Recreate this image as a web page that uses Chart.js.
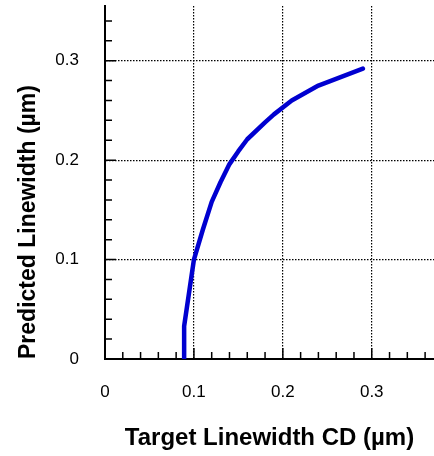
<!DOCTYPE html>
<html lang="en">
  <head>
    <meta charset="utf-8">
    <title>Predicted vs target linewidth</title>
    <script src="https://cdn.jsdelivr.net/npm/chart.js@4.4.1/dist/chart.umd.min.js"></script>
    <style>
      body { margin: 0; background: #fff; }
    </style>
  </head>
  <body>
    <canvas id="myChart" width="434" height="456"></canvas>
    <script>
      // values (um)
      const targetCD = [0.089, 0.089, 0.1, 0.11, 0.12, 0.13, 0.14, 0.15, 0.16, 0.18, 0.19, 0.21, 0.24, 0.29];
      const predicted = [0, 0.033, 0.1, 0.13, 0.158, 0.178, 0.196, 0.209, 0.221, 0.238, 0.246, 0.26, 0.275, 0.292];
      const xTicks = [0, 0.1, 0.2, 0.3];
      const yTicks = [0, 0.1, 0.2, 0.3];

      const points = [];
      for (let i = 0; i < targetCD.length; i++) {
          points.push({x: targetCD[i], y: predicted[i]});
      }

      const font = "'Liberation Sans', Arial, sans-serif";

      // small ticks pointing into the plot, every 0.02, longer on the labelled ones
      const innerTicks = {
          id: 'innerTicks',
          afterDraw(chart) {
              const ctx = chart.ctx;
              const xs = chart.scales.x, ys = chart.scales.y;
              ctx.save();
              ctx.strokeStyle = '#000';
              ctx.lineWidth = 1.5;
              ctx.beginPath();
              for (let k = 1; k * 0.02 <= xs.max + 1e-9; k++) {
                  const px = xs.getPixelForValue(k * 0.02);
                  const len = (k % 5 === 0) ? 11 : 7;
                  ctx.moveTo(px, ys.bottom);
                  ctx.lineTo(px, ys.bottom - len);
              }
              for (let k = 1; k * 0.02 <= ys.max + 1e-9; k++) {
                  const py = ys.getPixelForValue(k * 0.02);
                  const len = (k % 5 === 0) ? 11 : 7;
                  ctx.moveTo(xs.left, py);
                  ctx.lineTo(xs.left + len, py);
              }
              ctx.stroke();
              ctx.restore();
          }
      };

      new Chart(document.getElementById("myChart"), {
          type: 'scatter',
          data: {
              datasets: [{
                  data: points,
                  showLine: true,
                  borderColor: '#0000d0',
                  borderWidth: 4.5,
                  pointRadius: 0,
                  tension: 0,
                  borderCapStyle: 'round',
                  borderJoinStyle: 'round'
              }]
          },
          options: {
              responsive: false,
              animation: false,
              layout: { padding: { top: 6, right: 0, left: 0, bottom: 0 } },
              plugins: {
                  legend: { display: false },
                  tooltip: { enabled: false }
              },
              scales: {
                  x: {
                      type: 'linear',
                      min: 0,
                      max: 0.37,
                      afterFit: (s) => { s.height = 97; s.paddingLeft = 0; s.paddingRight = 0; },
                      afterBuildTicks: (s) => { s.ticks = xTicks.map(v => ({value: v})); },
                      ticks: {
                          color: '#000',
                          padding: 23,
                          font: { family: font, size: 17 },
                          callback: (v) => String(v)
                      },
                      grid: {
                          drawTicks: false,
                          color: (c) => (c.tick && c.tick.value === 0) ? 'rgba(0,0,0,0)' : '#000',
                          lineWidth: 1.2
                      },
                      border: { display: true, color: '#000', width: 2, dash: [1.5, 1.5] },
                      title: {
                          display: true,
                          text: 'Target Linewidth CD (\u00b5m)',
                          color: '#000',
                          font: { family: font, size: 24, weight: 'bold' },
                          padding: { top: 0, bottom: 3 }
                      }
                  },
                  y: {
                      type: 'linear',
                      min: 0,
                      max: 0.355,
                      afterFit: (s) => { s.width = 105; s.paddingTop = 0; s.paddingBottom = 0; },
                      afterBuildTicks: (s) => { s.ticks = yTicks.map(v => ({value: v})); },
                      ticks: {
                          color: '#000',
                          padding: 26,
                          font: { family: font, size: 17 },
                          callback: (v) => String(v)
                      },
                      grid: {
                          drawTicks: false,
                          color: (c) => (c.tick && c.tick.value === 0) ? 'rgba(0,0,0,0)' : '#000',
                          lineWidth: 1.2
                      },
                      border: { display: true, color: '#000', width: 2, dash: [1.5, 1.5] },
                      title: {
                          display: true,
                          align: 'start',
                          text: 'Predicted Linewidth (\u00b5m)',
                          color: '#000',
                          font: { family: font, size: 23, weight: 'bold' },
                          padding: { top: 15, bottom: 0 }
                      }
                  }
              }
          },
          plugins: [innerTicks]
      });
    </script>
  </body>
</html>
